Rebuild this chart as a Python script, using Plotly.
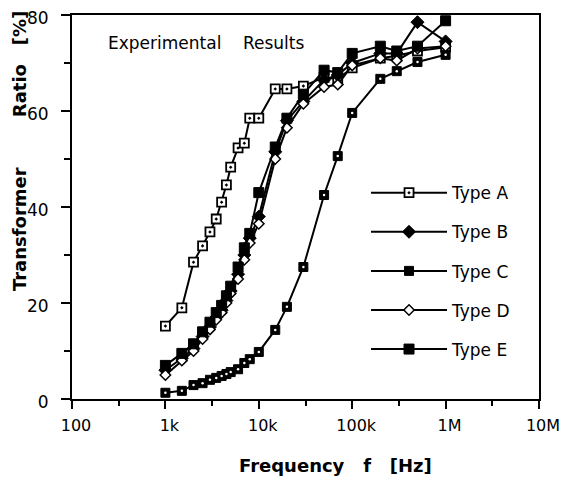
import plotly.graph_objects as go

# ---- data ----
freq = [1e3, 1.5e3, 2e3, 2.5e3, 3e3, 3.5e3, 4e3, 4.5e3, 5e3, 6e3, 7e3, 8e3,
        1e4, 1.5e4, 2e4, 3e4, 5e4, 7e4, 1e5, 2e5, 3e5, 5e5, 1e6]

type_a = [15.2, 19.0, 28.5, 31.9, 34.8, 37.5, 41.0, 44.6, 48.3, 52.3, 53.3, 58.5,
          58.5, 64.6, 64.6, 65.2, 67.0, 66.7, 69.0, 71.0, 71.5, 72.5, 73.3]
type_b = [6.0, 8.5, 10.5, 13.0, 15.0, 17.0, 18.5, 20.5, 22.5, 26.0, 30.0, 33.5,
          38.0, 51.5, 58.0, 62.0, 66.5, 67.5, 70.0, 72.0, 72.0, 78.5, 74.5]
type_c = [1.3, 1.7, 2.9, 3.3, 4.0, 4.4, 4.8, 5.2, 5.6, 6.2, 7.5, 8.3,
          9.8, 14.4, 19.2, 27.5, 42.5, 50.6, 59.6, 66.7, 68.3, 70.2, 71.7]
type_d = [5.0, 8.0, 10.0, 12.5, 14.5, 16.5, 18.0, 20.0, 22.0, 25.0, 29.0, 32.5,
          36.5, 50.0, 56.5, 61.5, 65.0, 65.5, 69.5, 71.0, 70.5, 73.0, 73.5]
type_e = [7.0, 9.5, 11.5, 14.0, 16.0, 18.0, 19.5, 21.5, 23.5, 27.5, 31.5, 34.5,
          43.0, 52.5, 58.5, 63.5, 68.5, 68.0, 72.0, 73.5, 72.5, 73.5, 78.8]

names = ["Type A", "Type B", "Type C", "Type D", "Type E"]
x_tickvals = [1e2, 1e3, 1e4, 1e5, 1e6, 1e7]
x_ticktext = ["100", "1k", "10k", "100k", "1M", "10M"]
y_tickvals = [0, 20, 40, 60, 80]

FONT = "DejaVu Sans, Verdana, sans-serif"
NB = "\u00a0"

styles = {
    "Type A": dict(symbol="square-dot", size=9, color="white", line=dict(color="black", width=1.8)),
    "Type B": dict(symbol="diamond", size=10, color="black", line=dict(color="black", width=1)),
    "Type C": dict(symbol="square", size=9, color="black", line=dict(color="black", width=1)),
    "Type D": dict(symbol="diamond", size=8, color="white", line=dict(color="black", width=1.5)),
    "Type E": dict(symbol="square", size=10, color="black", line=dict(color="black", width=1)),
}

fig = go.Figure()
for name, vals in zip(names, [type_a, type_b, type_c, type_d, type_e]):
    fig.add_trace(go.Scatter(
        x=freq, y=vals, name=name, mode="lines+markers",
        legendgroup=name,
        line=dict(color="black", width=2),
        marker=styles[name],
    ))
# small white centre dots of Type C markers
fig.add_trace(go.Scatter(
    x=freq, y=type_c, mode="markers", showlegend=False, hoverinfo="skip",
    marker=dict(symbol="circle", size=2.5, color="white", line=dict(width=0)),
))

minor_x = [v * 10 ** 0.5 for v in x_tickvals[:-1]]

fig.update_xaxes(
    type="log", range=[2, 7], automargin=False,
    tickvals=x_tickvals, ticktext=x_ticktext,
    ticks="outside", ticklen=8, tickwidth=2, tickcolor="black",
    minor=dict(tickvals=minor_x, ticks="outside", ticklen=5, tickwidth=1.5, tickcolor="black"),
    showline=True, linecolor="black", linewidth=2, mirror=True,
    showgrid=False, zeroline=False,
    ticklabelshift=4, ticklabelstandoff=3, ticklabeloverflow="allow",
    tickfont=dict(family=FONT, size=16, color="black"),
)
fig.update_yaxes(
    range=[0, 80], tickvals=y_tickvals, automargin=False,
    ticks="outside", ticklen=9, tickwidth=2, tickcolor="black",
    minor=dict(dtick=10, ticks="outside", ticklen=6, tickwidth=1.5, tickcolor="black"),
    showline=True, linecolor="black", linewidth=2, mirror=True,
    showgrid=False, zeroline=False,
    ticklabelstandoff=9, ticklabelshift=3, ticklabeloverflow="allow",
    tickfont=dict(family=FONT, size=17, color="black"),
)

fig.add_annotation(text="Experimental" + NB * 4 + "Results", xref="paper", yref="paper",
                   x=0.289, y=0.927, xanchor="center", yanchor="middle", showarrow=False,
                   font=dict(family=FONT, size=17, color="black"))
fig.add_annotation(text="<b>Frequency" + NB * 3 + "f" + NB * 3 + "[Hz]</b>", xref="paper", yref="paper",
                   x=0.565, y=-0.174, xanchor="center", yanchor="middle", showarrow=False,
                   font=dict(family=FONT, size=18, color="black"))
fig.add_annotation(text="<b>Transformer" + NB * 8 + "Ratio" + NB * 3 + "[%]</b>", xref="paper", yref="paper",
                   x=-0.111, y=0.646, xanchor="center", yanchor="middle", showarrow=False, textangle=-90,
                   font=dict(family=FONT, size=18, color="black"))

# the page body adds an 8px offset, so the figure is 8px smaller and margins shifted
fig.update_layout(
    width=559, height=473,
    margin=dict(l=64, r=28, t=7, b=82, autoexpand=False),
    paper_bgcolor="white", plot_bgcolor="white",
    showlegend=True,
    legend=dict(x=0.6296, y=0.583, xanchor="left", yanchor="top",
                bgcolor="rgba(0,0,0,0)", borderwidth=0,
                tracegroupgap=14, itemwidth=76, traceorder="grouped",
                font=dict(family=FONT, size=17, color="black")),
)

fig.write_html("out.html")
